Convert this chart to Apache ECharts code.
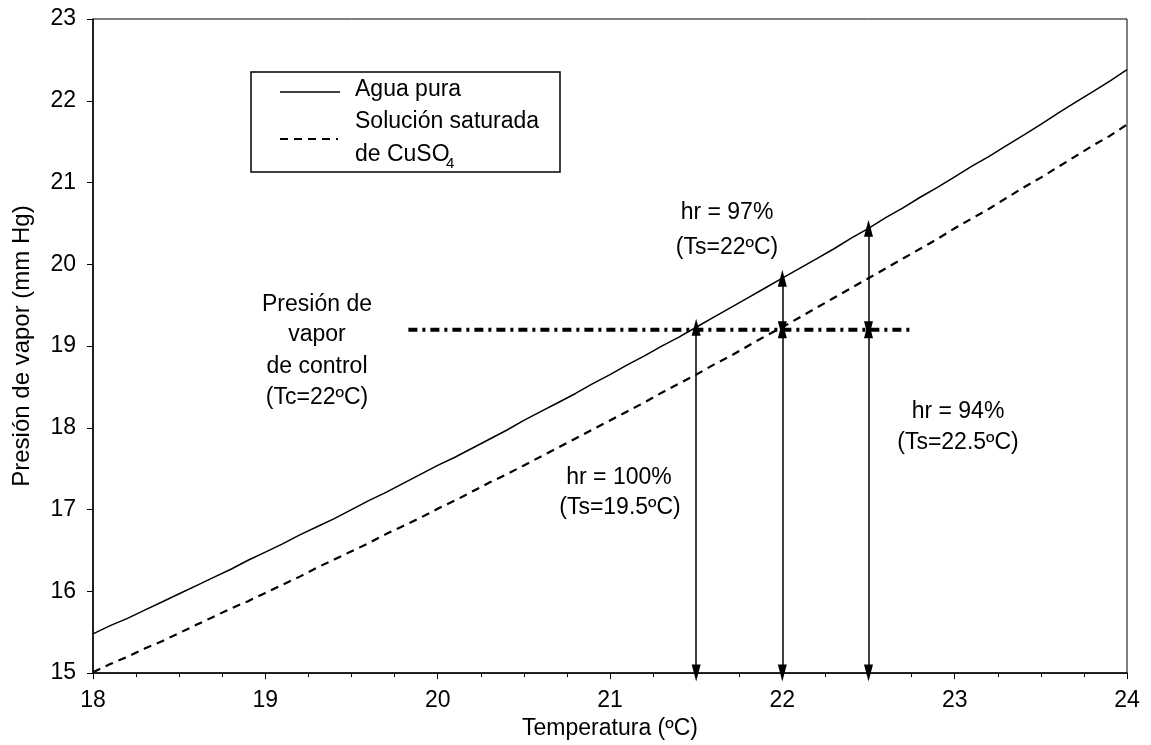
<!DOCTYPE html>
<html>
<head>
<meta charset="utf-8">
<script src="https://cdn.jsdelivr.net/npm/echarts@6/dist/echarts.min.js"></script>
<style>
html,body{margin:0;padding:0;background:#fff;}
#chart{width:1151px;height:745px;}
</style>
</head>
<body>
<div id="chart"></div>
<script>
// Temperature (ºC)
const temps = [18.0,18.1,18.2,18.3,18.4,18.5,18.6,18.7,18.8,18.9,19.0,19.1,19.2,19.3,19.4,19.5,19.6,19.7,19.8,19.9,20.0,20.1,20.2,20.3,20.4,20.5,20.6,20.7,20.8,20.9,21.0,21.1,21.2,21.3,21.4,21.5,21.6,21.7,21.8,21.9,22.0,22.1,22.2,22.3,22.4,22.5,22.6,22.7,22.8,22.9,23.0,23.1,23.2,23.3,23.4,23.5,23.6,23.7,23.8,23.9,24.0];
// Agua pura (mm Hg)
const aguaPura = [15.48,15.58,15.67,15.77,15.87,15.97,16.07,16.17,16.27,16.38,16.48,16.58,16.69,16.79,16.89,17.00,17.11,17.21,17.32,17.43,17.54,17.64,17.75,17.86,17.97,18.09,18.20,18.31,18.42,18.54,18.65,18.77,18.88,19.00,19.11,19.23,19.35,19.47,19.59,19.71,19.83,19.95,20.07,20.19,20.32,20.44,20.57,20.69,20.82,20.94,21.07,21.20,21.32,21.45,21.58,21.71,21.85,21.98,22.11,22.24,22.38];
// Solución saturada de CuSO4 (mm Hg)
const solucion = [15.01,15.11,15.20,15.30,15.39,15.49,15.59,15.69,15.79,15.88,15.98,16.08,16.18,16.29,16.39,16.49,16.59,16.70,16.80,16.90,17.01,17.11,17.22,17.33,17.43,17.54,17.65,17.76,17.87,17.98,18.09,18.20,18.31,18.43,18.54,18.65,18.77,18.88,19.00,19.12,19.23,19.35,19.47,19.59,19.71,19.83,19.95,20.07,20.19,20.31,20.44,20.56,20.68,20.81,20.94,21.06,21.19,21.32,21.45,21.57,21.71];
// Control vapour pressure line
const controlX = [19.83, 22.75];
const controlP = [19.2, 19.2];
// Double arrows
const arrowX    = [21.5, 22.0, 22.0, 22.5, 22.5];
const arrowFrom = [15.0, 15.0, 19.2, 15.0, 19.2];
const arrowTo   = [19.23, 19.2, 19.83, 19.2, 20.44];
// Axis ticks
const xMin = 18, xMax = 24, yMin = 15, yMax = 23;

const FONT = 'Liberation Sans, Arial, sans-serif';
const chart = echarts.init(document.getElementById('chart'), null, {renderer:'canvas'});

const pairs = (xs, ys) => xs.map((x, i) => [x, ys[i]]);
const arrowLines = arrowX.map((x, i) => [{coord:[x, arrowFrom[i]]}, {coord:[x, arrowTo[i]]}]);

function txt(text, x, y, size, align) {
  return {type:'text', z:100, style:{text:text, x:x, y:y, fill:'#000', font: (size||23)+'px '+FONT, textAlign: align||'center', textVerticalAlign:'middle'}};
}

const option = {
  animation:false,
  backgroundColor:'#fff',
  grid:{left:93, top:19, right:24, bottom:70, show:true, borderColor:'#000', borderWidth:1, backgroundColor:'transparent'},
  xAxis:{
    type:'value', min:xMin, max:xMax, interval:1,
    name:'Temperatura (ºC)', nameLocation:'middle', nameGap:40,
    nameTextStyle:{fontFamily:FONT, fontSize:23, color:'#000'},
    axisLine:{lineStyle:{color:'#000', width:1.5}},
    axisTick:{show:true, length:6, lineStyle:{color:'#000', width:1}},
    minorTick:{show:true, splitNumber:4, length:4, lineStyle:{color:'#000', width:1}},
    axisLabel:{fontFamily:FONT, fontSize:23, color:'#000', margin:16},
    splitLine:{show:false}
  },
  yAxis:{
    type:'value', min:yMin, max:yMax, interval:1,
    name:'Presión de vapor (mm Hg)', nameLocation:'middle', nameGap:59,
    nameTextStyle:{fontFamily:FONT, fontSize:24, color:'#000'},
    axisLine:{lineStyle:{color:'#000', width:1.5}},
    axisTick:{show:true, length:6, lineStyle:{color:'#000', width:1}},
    axisLabel:{fontFamily:FONT, fontSize:23, color:'#000', margin:17},
    splitLine:{show:false}
  },
  series:[
    {type:'line', name:'Agua pura', data:pairs(temps, aguaPura), showSymbol:false, symbol:'none',
     lineStyle:{color:'#000', width:1.5}, z:5,
     markLine:{silent:true, symbol:['triangle','triangle'], symbolSize:[9,17], label:{show:false},
       lineStyle:{color:'#000', width:1.5, type:'solid'}, data:arrowLines}},
    {type:'line', name:'Solución saturada de CuSO4', data:pairs(temps, solucion), showSymbol:false, symbol:'none',
     lineStyle:{color:'#000', width:2.2, type:[8,6]}, z:4},
    {type:'line', name:'Control', data:pairs(controlX, controlP), showSymbol:false, symbol:'none',
     lineStyle:{color:'#000', width:4, type:[9,5,3,5]}, z:6}
  ],
  graphic:[
    {type:'rect', z:50, shape:{x:251, y:72, width:309, height:100}, style:{fill:'#fff', stroke:'#000', lineWidth:1.5}},
    {type:'line', z:60, shape:{x1:280, y1:92, x2:340, y2:92}, style:{stroke:'#000', lineWidth:1.5}},
    {type:'line', z:60, shape:{x1:280, y1:139, x2:338, y2:139}, style:{stroke:'#000', lineWidth:2, lineDash:[8,6]}},
    txt('Agua pura', 355, 90, 23, 'left'),
    txt('Solución saturada', 355, 122, 23, 'left'),
    txt('de CuSO', 355, 155, 23, 'left'),
    txt('4', 446, 164, 15, 'left'),
    txt('Presión de', 317, 305),
    txt('vapor', 317, 335),
    txt('de control', 317, 367),
    txt('(Tc=22ºC)', 317, 398),
    txt('hr = 97%', 727, 213),
    txt('(Ts=22ºC)', 727, 248),
    txt('hr = 100%', 619, 478),
    txt('(Ts=19.5ºC)', 620, 508),
    txt('hr = 94%', 958, 412),
    txt('(Ts=22.5ºC)', 958, 443)
  ]
};
chart.setOption(option);
</script>
</body>
</html>
